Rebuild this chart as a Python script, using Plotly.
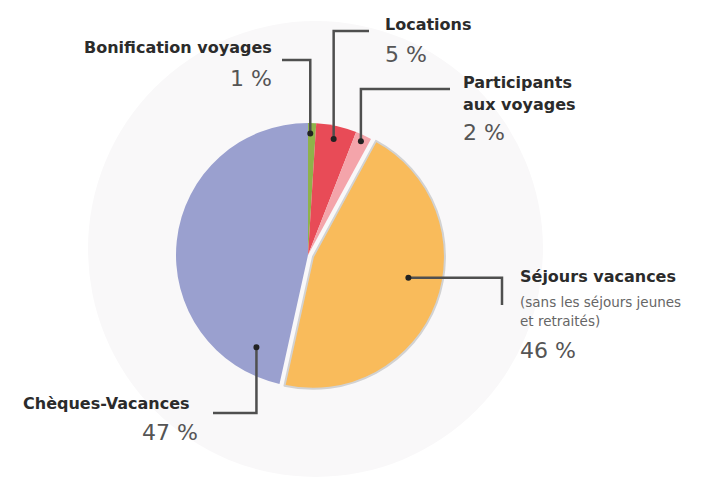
import math
import plotly.graph_objects as go

# ---- data ----
categories = ["Bonification voyages", "Locations", "Participants aux voyages",
              "Séjours vacances", "Chèques-Vacances"]
values = [1, 5, 2, 46, 47]
pct_labels = ["1 %", "5 %", "2 %", "46 %", "47 %"]
colors = ["#8fb24a", "#e84b57", "#f4a4aa", "#f9bb5b", "#9aa0cf"]
pulls = [0, 0, 0, 0.04, 0]

W, H = 705, 477
OFF = 8                      # page offset of the plot div (body margin)
CX, CY, R = 308, 255, 132    # pie centre / radius in page px

fig = go.Figure()

maxpull = max(pulls)
half = R * (1 + maxpull)
fx, fy = CX - OFF, CY - OFF
fig.add_trace(go.Pie(
    labels=categories, values=values, sort=False, direction="clockwise",
    rotation=0, pull=pulls, textinfo="none", hoverinfo="label+percent",
    marker=dict(colors=colors,
                line=dict(color=["rgba(0,0,0,0)"] * 3 + ["#d2d2d2", "rgba(0,0,0,0)"],
                          width=[0, 0, 0, 2, 0])),
    domain=dict(x=[(fx - half) / W, (fx + half) / W],
                y=[1 - (fy + half) / H, 1 - (fy - half) / H]),
    showlegend=False,
))

# invisible pixel-space axes (page coordinates) for the decorations
fig.add_trace(go.Scatter(x=[OFF, W + OFF], y=[OFF, H + OFF], mode="markers",
                         marker=dict(opacity=0), hoverinfo="skip", showlegend=False))

# anchor dots computed from slice geometry
anchor_frac = [0.3, 0.5, 0.5, 0.45, 0.10]   # position inside the slice
anchor_rad = [0.92, 0.90, 0.95, 0.74, 0.80]  # radial fraction
total = sum(values)
cum = 0
dots = []
for v, f, rf, p in zip(values, anchor_frac, anchor_rad, pulls):
    th = 2 * math.pi * (cum + f * v) / total
    mid = 2 * math.pi * (cum + v / 2) / total
    ox = p * R * math.sin(mid)
    oy = -p * R * math.cos(mid)
    dots.append((CX + ox + R * rf * math.sin(th), CY + oy - R * rf * math.cos(th)))
    cum += v

# leader line bends: (orientation, first-leg target, second-leg target)
bends = [("V", 60, 282), ("V", 31, 369), ("V", 89, 450), ("H", 502, 305), ("V", 413, 213)]

shapes = [dict(type="circle", xref="x", yref="y", x0=88, x1=543, y0=21, y1=477,
               fillcolor="#f9f8f9", line=dict(width=0), layer="below")]
for (dx, dy), (o, a, b) in zip(dots, bends):
    if o == "V":
        path = f"M {dx},{dy} V {a} H {b}"
    else:
        path = f"M {dx},{dy} H {a} V {b}"
    shapes.append(dict(type="path", xref="x", yref="y", path=path,
                       line=dict(color="#4f4f4f", width=2.5), layer="above"))
    shapes.append(dict(type="circle", xref="x", yref="y", x0=dx - 3, x1=dx + 3,
                       y0=dy - 3, y1=dy + 3, fillcolor="#222", line=dict(width=0),
                       layer="above"))

NAME_FONT = dict(family="DejaVu Sans", size=16, color="#2b2b2b")
PCT_FONT = dict(family="DejaVu Sans", size=22, color="#555555")
SUB_FONT = dict(family="DejaVu Sans", size=13.5, color="#666666")

ann = []
def add(text, x, y, anchor, font):
    ann.append(dict(text=text, x=x, y=y, xref="x", yref="y", xanchor=anchor,
                    yanchor="middle", showarrow=False, font=font))

add("<b>Bonification voyages</b>", 274, 47, "right", NAME_FONT)
add(pct_labels[0], 274, 78, "right", PCT_FONT)
add("<b>Locations</b>", 383, 24, "left", NAME_FONT)
add(pct_labels[1], 383, 54, "left", PCT_FONT)
add("<b>Participants</b>", 461, 82, "left", NAME_FONT)
add("<b>aux voyages</b>", 461, 104, "left", NAME_FONT)
add(pct_labels[2], 461, 132, "left", PCT_FONT)
add("<b>Séjours vacances</b>", 518, 276, "left", NAME_FONT)
add("(sans les séjours jeunes", 518, 302, "left", SUB_FONT)
add("et retraités)", 518, 321, "left", SUB_FONT)
add(pct_labels[3], 518, 350, "left", PCT_FONT)
add("<b>Chèques-Vacances</b>", 192, 403, "right", NAME_FONT)
add(pct_labels[4], 200, 432, "right", PCT_FONT)

fig.update_layout(
    width=W, height=H, margin=dict(l=0, r=0, t=0, b=0),
    paper_bgcolor="white", plot_bgcolor="rgba(0,0,0,0)",
    xaxis=dict(range=[OFF, W + OFF], visible=False, fixedrange=True),
    yaxis=dict(range=[H + OFF, OFF], visible=False, fixedrange=True),
    shapes=shapes, annotations=ann,
)

fig.write_html("out.html")
